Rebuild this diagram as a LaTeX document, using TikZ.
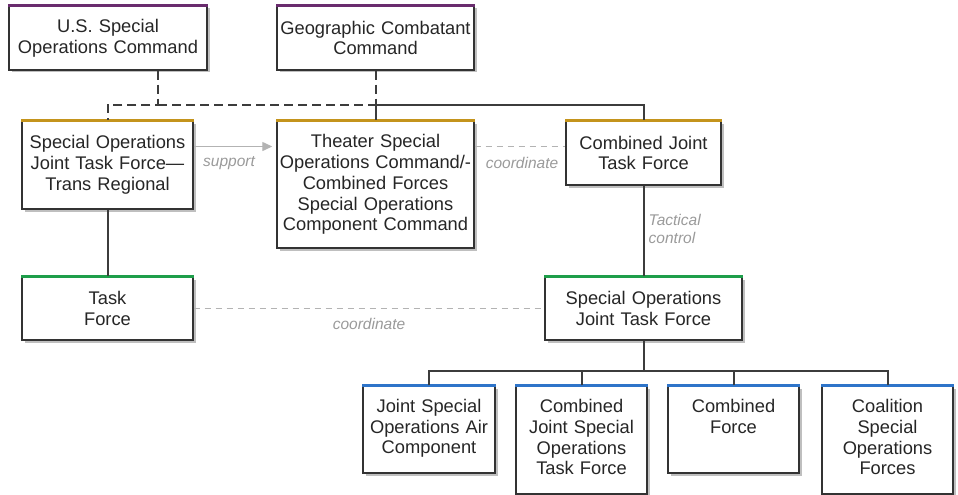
\documentclass[tikz,border=0pt]{standalone}
\usepackage{fontspec}
\setmainfont{Liberation Sans}
\usetikzlibrary{arrows.meta,shadows,calc}
\definecolor{boxline}{HTML}{333333}
\definecolor{txt}{HTML}{262626}
\definecolor{cpurple}{HTML}{6A2C6E}
\definecolor{cgold}{HTML}{C4941C}
\definecolor{cgreen}{HTML}{1E9E4A}
\definecolor{cblue}{HTML}{2E74C9}
\definecolor{conn}{HTML}{3C3C3C}
\definecolor{lbl}{HTML}{9A9A9A}
\definecolor{light}{HTML}{B3B3B3}
\newcommand{\liftup}{\\[-14.8pt]\mbox{}}
\begin{document}
\begin{tikzpicture}[x=1pt,y=-1pt,
  box/.style 2 args={draw=boxline, line width=1.4pt, fill=white, text=txt,
    align=center, inner sep=0pt, text width=#1, minimum height=#2,
    font=\fontsize{18.3}{20.8}\selectfont,
    drop shadow={shadow xshift=2.5pt, shadow yshift=-2.5pt, opacity=0.25, fill=black}},
  topbar/.style={line width=3pt, line cap=butt},
  solidc/.style={draw=conn, line width=2pt},
  dashc/.style={solidc, dash pattern=on 9pt off 5pt},
  coordc/.style={draw=light, line width=1.2pt, dash pattern=on 6pt off 5pt},
  supp/.style={draw=light, line width=1.3pt, -{Triangle[length=10pt,width=9pt]}, shorten >=4pt},
  lab/.style={text=lbl, font=\fontsize{15.5}{18}\selectfont\itshape, inner sep=0pt}
]
\useasboundingbox (0,0) rectangle (958,495);

% boxes
\node[box={198pt}{64pt}] (uss) at (108,38) {U.S. Special\\Operations Command};
\node[box={197pt}{64pt}] (gcc) at (375.5,38) {Geographic Combatant\\Command};
\node[box={171pt}{88pt}] (sojtftr) at (107.5,165) {Special Operations\\Joint Task Force—\\Trans Regional};
\node[box={197pt}{127pt}] (tsoc) at (375.5,184.5) {Theater Special\\Operations Command/-\\Combined Forces\\Special Operations\\Component Command};
\node[box={155pt}{64pt}] (cjtf) at (643.5,153) {Combined Joint\\Task Force};
\node[box={171pt}{63pt}] (tf) at (107.5,308.5) {Task\\Force};
\node[box={197pt}{63pt}] (sojtf) at (643.5,308.5) {Special Operations\\Joint Task Force};
\node[box={132pt}{87pt}] (jsoac) at (429,429.5) {Joint Special\\Operations Air\\Component\liftup};
\node[box={131pt}{108pt}] (cjsotf) at (581.5,440) {Combined\\Joint Special\\Operations\\Task Force\liftup};
\node[box={131pt}{87pt}] (cf) at (733.5,429.5) {Combined\\Force\\\strut\liftup};
\node[box={131pt}{108pt}] (csof) at (887.5,440) {Coalition\\Special\\Operations\\Forces\liftup};

% coloured top bars
\foreach \n/\c in {uss/cpurple, gcc/cpurple, sojtftr/cgold, tsoc/cgold, cjtf/cgold,
                   tf/cgreen, sojtf/cgreen, jsoac/cblue, cjsotf/cblue, cf/cblue, csof/cblue}
  \draw[topbar, \c] (\n.north west) -- (\n.north east);

% helper levels
\coordinate (ybar) at (0,105);
\coordinate (ya) at (0,146.5);
\coordinate (yt) at (0,371);
\coordinate (ussout) at ([xshift=50pt]uss.south);

% upper hierarchy
\draw[dashc] (ussout) |- (sojtftr.north |- ybar) -- (sojtftr.north);
\draw[dashc] (ussout |- ybar) -- (gcc.south |- ybar);
\draw[dashc] (gcc.south) -- (gcc.south |- ybar);
\draw[solidc] (gcc.south |- ybar) -- (tsoc.north);
\draw[solidc] (gcc.south |- ybar) -| (cjtf.north);

% support / coordinate
\draw[supp] (sojtftr.east |- ya) -- (tsoc.west |- ya);
\node[lab] (lsupport) at (229,163) {support};
\draw[coordc] (tsoc.east |- ya) -- (cjtf.west |- ya);
\node[lab] (lcoord1) at (522,163) {coordinate};

% tactical control
\draw[solidc] (cjtf.south) -- (sojtf.north);
\node[lab, anchor=north west, align=left] (ltac) at (648.5,214.5) {Tactical\\control};

% task force
\draw[solidc] (sojtftr.south) -- (tf.north);
\draw[coordc] (tf.east) -- (sojtf.west);
\node[lab] (lcoord2) at (369,324) {coordinate};

% lower tree
\draw[solidc] (sojtf.south) -- (sojtf.south |- yt);
\draw[solidc] (jsoac.north) -- (jsoac.north |- yt) -- (csof.north |- yt) -- (csof.north);
\draw[solidc] (cjsotf.north) -- (cjsotf.north |- yt);
\draw[solidc] (cf.north) -- (cf.north |- yt);
\end{tikzpicture}
\end{document}
